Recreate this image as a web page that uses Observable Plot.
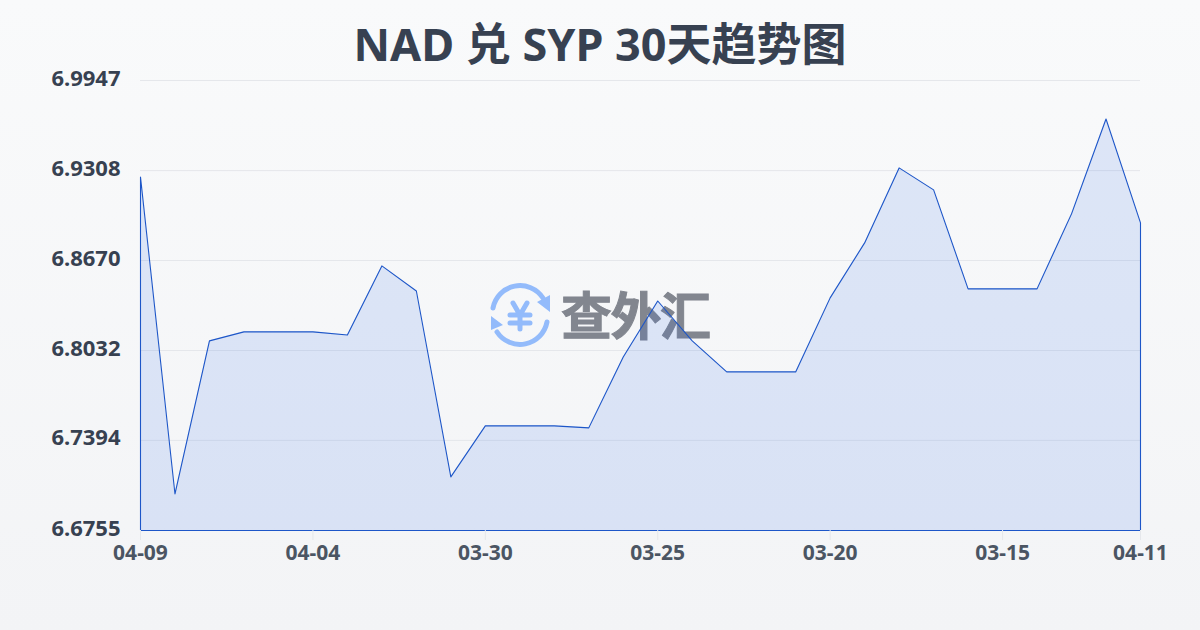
<!DOCTYPE html>
<html><head><meta charset="utf-8">
<script src="https://cdn.jsdelivr.net/npm/d3@7"></script>
<script src="https://cdn.jsdelivr.net/npm/@observablehq/plot@0.6"></script>
<style>
html,body{margin:0;padding:0}
body{width:1200px;height:630px;overflow:hidden;position:relative;background:linear-gradient(180deg,#f9fafb,#f3f4f6);font-family:"Noto Sans","Noto Sans CJK SC",sans-serif}
h1{position:absolute;left:0;top:12px;width:1200px;margin:0;text-align:center;font-size:45px;line-height:64px;font-weight:700;color:#374151}
#logo{position:absolute;left:488px;top:280px;overflow:visible}
#chart{position:absolute;left:0;top:0}
#chart svg{display:block;background:transparent}
</style></head><body>
<h1>NAD 兑 SYP 30天趋势图</h1>
<svg id="logo" width="240" height="72" viewBox="0 -4 240 72">
 <g fill="none" stroke="#93bbfb" stroke-width="5" stroke-linecap="round">
  <path d="M5 24 A27.5 27.5 0 0 1 55 14"/><path d="M59 38 A27.5 27.5 0 0 1 9 48"/>
  <path d="M25 19 L32 31 L39 19 M22 31 H42 M22 39 H42 M32 31 V45" stroke-width="5"/>
 </g>
 <path d="M62 11 V28 L49 18 Z M3 32 L15 41 L3 46 Z" fill="#93bbfb"/>
 <text x="73" y="51" font-size="51" font-weight="700" fill="#82868f" stroke="#82868f" stroke-width="1" textLength="150" font-family="Noto Sans CJK SC">查外汇</text>
</svg>
<div id="chart"></div>
<script>
const dates=["04-09","04-08","04-07","04-06","04-05","04-04","04-03","04-02","04-01","03-31","03-30","03-29","03-28","03-27","03-26","03-25","03-24","03-23","03-22","03-21","03-20","03-19","03-18","03-17","03-16","03-15","03-14","03-13","03-12","04-11"];
const rates=[6.9262,6.7014,6.8100,6.8164,6.8164,6.8164,6.8142,6.8632,6.8454,6.7135,6.7497,6.7497,6.7497,6.7483,6.7986,6.8383,6.8100,6.7880,6.7880,6.7880,6.8405,6.8795,6.9327,6.9171,6.8469,6.8469,6.8469,6.9001,6.9674,6.8937];
const yTicks=[6.6755,6.7394,6.8032,6.867,6.9308,6.9947];
const xTicks=["04-09","04-04","03-30","03-25","03-20","03-15","04-11"];
const rows=dates.map((d,i)=>({d,v:rates[i]}));
const base=yTicks[0];
const plot=Plot.plot({
 width:1200,height:630,marginLeft:140,marginRight:60,marginTop:80,marginBottom:100,
 style:{background:"transparent",fontFamily:'"Noto Sans","Noto Sans CJK SC",sans-serif'},
 x:{type:"point",domain:dates,padding:0,round:false,label:null},
 y:{domain:[yTicks[0],yTicks[5]],label:null},
 marks:[
  Plot.gridY(yTicks,{stroke:"#e5e7eb",strokeOpacity:1,strokeWidth:1}),
  Plot.areaY(rows,{x:"d",y1:base,y2:"v",fill:"#2563eb",fillOpacity:0.13}),
  Plot.areaY(rows,{x:"d",y1:base,y2:"v",fill:"none",stroke:"#1d56c8",strokeWidth:1.1,curve:"linear",dx:0.5,dy:0.5}),
  Plot.axisY(yTicks,{tickSize:0,tickPadding:20,tickFormat:d=>d.toFixed(4),fontSize:22,fontWeight:700,fill:"#374151",dy:-2,label:null}),
  Plot.axisX(xTicks,{tickSize:10,stroke:"#e5e7eb",tickPadding:5,fontSize:21,fontWeight:700,fill:"#4b5563",label:null})
 ]
});
document.getElementById("chart").append(plot);
</script></body></html>
